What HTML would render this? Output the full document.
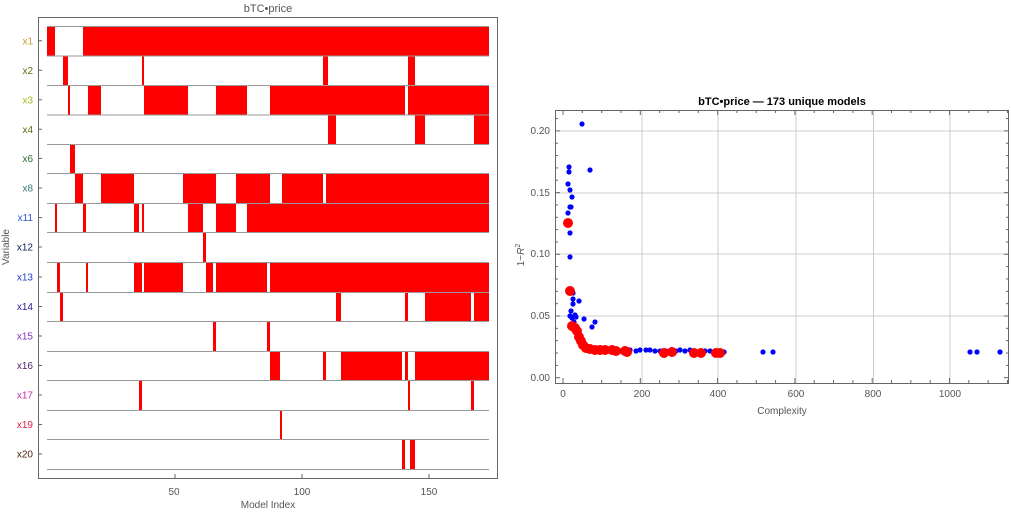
<!DOCTYPE html>
<html><head><meta charset="utf-8"><style>
body{margin:0;background:#fff;width:1011px;height:515px;overflow:hidden}
svg{font-family:"Liberation Sans",sans-serif}
</style></head><body>
<svg width="1011" height="515" viewBox="0 0 1011 515" xmlns="http://www.w3.org/2000/svg">
<rect width="1011" height="515" fill="#fff"/>
<text x="268" y="12" font-size="11" fill="#555" text-anchor="middle">bTC•price</text>
<g fill="#f00" id="bars"></g>
<g id="lines" stroke="#999" stroke-width="1"></g>
<rect x="38.5" y="17.5" width="459" height="461" fill="none" stroke="#666" stroke-width="1"/>
<g id="lab" font-size="10" text-anchor="end"></g>
<g stroke="#666"><line x1="175" y1="478" x2="175" y2="474"/><line x1="302" y1="478" x2="302" y2="474"/><line x1="429" y1="478" x2="429" y2="474"/></g>
<g font-size="10" fill="#555" text-anchor="middle"><text x="174" y="495">50</text><text x="302" y="495">100</text><text x="429" y="495">150</text>
<text x="268" y="508">Model Index</text></g>
<text transform="translate(9,247) rotate(-90)" font-size="10" fill="#555" text-anchor="middle">Variable</text>

<text x="782" y="105" font-size="11" font-weight="bold" fill="#000" text-anchor="middle">bTC•price — 173 unique models</text>
<g stroke="#ccc" stroke-width="1">
<line x1="642" y1="110" x2="642" y2="383"/><line x1="718" y1="110" x2="718" y2="383"/><line x1="796" y1="110" x2="796" y2="383"/><line x1="873.5" y1="110" x2="873.5" y2="383"/><line x1="950" y1="110" x2="950" y2="383"/>
<line x1="555" y1="131" x2="1009" y2="131"/><line x1="555" y1="193" x2="1009" y2="193"/><line x1="555" y1="254" x2="1009" y2="254"/><line x1="555" y1="316" x2="1009" y2="316"/>
</g>
<rect x="555.5" y="110.5" width="453" height="273" fill="none" stroke="#666"/>
<g id="rt" stroke="#666"></g>
<g font-size="10" fill="#555" text-anchor="end">
<text x="550" y="134">0.20</text><text x="550" y="196">0.15</text><text x="550" y="257">0.10</text><text x="550" y="319">0.05</text><text x="550" y="381">0.00</text></g>
<g font-size="10" fill="#555" text-anchor="middle">
<text x="563" y="397">0</text><text x="642" y="397">200</text><text x="718" y="397">400</text><text x="796" y="397">600</text><text x="873" y="397">800</text><text x="950" y="397">1000</text>
<text x="782" y="414">Complexity</text></g>
<text transform="translate(524,255) rotate(-90)" font-size="10" fill="#555" text-anchor="middle">1−<tspan font-style="italic">R</tspan><tspan font-size="7" dy="-4">2</tspan></text>
<g id="blue" fill="#00f"></g>
<g id="red" fill="#f00"></g>
</svg>
<script>
var ns="http://www.w3.org/2000/svg";
function el(p,t,a){var e=document.createElementNS(ns,t);for(var k in a)e.setAttribute(k,a[k]);document.getElementById(p).appendChild(e);return e;}
var tops=[26,55.5,85,114.5,144,173,203,232,262,292,321,351,380,410,439,469];
var names=["x1","x2","x3","x4","x6","x8","x11","x12","x13","x14","x15","x16","x17","x19","x20"];
var cols=["#c8a030","#6b6b10","#a8b820","#5a6a10","#2a6a30","#307a70","#3050d0","#102060","#2040d0","#301890","#8030c0","#502070","#c030b0","#e02040","#502010"];
var bars=[
[[47,55],[83,489]],
[[63,68],[142,144],[323,328],[408,415]],
[[68,70],[88,101],[144,188],[216,247],[270,405],[408,489]],
[[328,336],[415,425],[474,489]],
[[70,75]],
[[75,83],[101,134],[183,216],[236,270],[282,323],[326,489]],
[[55,57],[83,86],[134,139],[142,144],[188,203],[216,236],[247,489]],
[[203,206]],
[[57,60],[86,88],[134,142],[144,183],[206,213],[216,267],[270,489]],
[[60,63],[336,341],[405,408],[425,471],[474,489]],
[[213,216],[267,270]],
[[270,280],[323,326],[341,402],[405,408],[415,489]],
[[139,142],[408,410],[471,474]],
[[280,282]],
[[402,405],[410,415]]];
for(var i=0;i<15;i++){
 bars[i].forEach(function(b){el("bars","rect",{x:b[0],y:tops[i],width:b[1]-b[0],height:tops[i+1]-tops[i]});});
 var cy=(tops[i]+tops[i+1])/2;
 var t=el("lab","text",{x:33,y:cy+3.5,fill:cols[i]});t.textContent=names[i];
 el("lab","line",{x1:38,y1:cy,x2:42,y2:cy,stroke:"#666"});
}
for(var i=0;i<16;i++)el("lines","line",{x1:47,y1:tops[i]+.5,x2:489,y2:tops[i]+.5});
// right ticks
for(var v=0;v<=1150;v+=50){var x=563+v*0.3865;if(x>1008)break;var L=v%200==0?5:3;el("rt","line",{x1:x,y1:383,x2:x,y2:383-L});el("rt","line",{x1:x,y1:110,x2:x,y2:110+L});}
for(var v=0;v<=0.22;v+=0.01){var y=377.7-1234*v;if(y<111)break;var L=Math.round(v*100)%5==0?5:3;el("rt","line",{x1:555,y1:y,x2:555+L,y2:y});el("rt","line",{x1:1009,y1:y,x2:1009-L,y2:y});}
var blue=[[582,124],[569,167],[569,172],[590,170],[568,184],[570,190],[572,197],[570,207],[571,207],[568,213],[570,233],[570,257],
[573,293],[573,299],[573,304],[579,301],[571,311],[575,315],[576,317],[584,319],[595,322],[592,327],[570,316],[572,318],[574,322],[576,327],[578,331],[580,336],[582,340],[584,345],[586,349],
[590,350],[596,350],[600,351],[606,350],[612,351],[620,351],[630,350],[636,351],[640,350],[646,350],[650,350],[655,351],[660,351],[666,351],[670,351],[676,351],[680,350],[685,351],[690,350],[695,351],[700,351],[705,351],[710,351],[716,351],[724,352],[763,352],[773,352],[970,352],[977,352],[1000,352]];
blue.forEach(function(p){el("blue","circle",{cx:p[0],cy:p[1],r:2.6});});
var red=[[568,223],[570,291],[572,326],[575,328],[577,331],[579,337],[581,341],[583,345],[586,348],[590,349],[595,350],[600,350],[605,350],[612,350],[616,351],[625,351],[627,352],[664,353],[672,352],[694,353],[701,353],[716,353],[720,353]];
red.forEach(function(p){el("red","circle",{cx:p[0],cy:p[1],r:5});});
</script>
</body></html>
